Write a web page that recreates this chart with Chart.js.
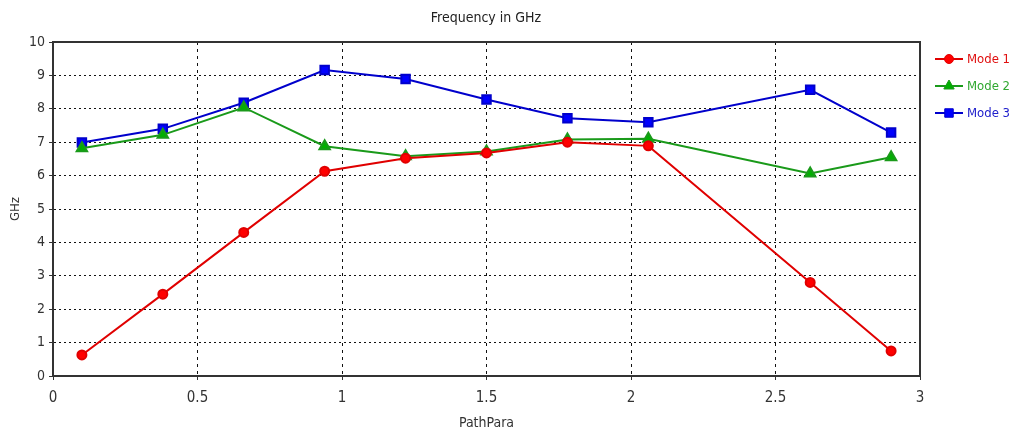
<!DOCTYPE html>
<html>
<head>
<meta charset="utf-8">
<script src="https://cdn.jsdelivr.net/npm/chart.js@4/dist/chart.umd.min.js"></script>
<style>
  html, body { margin: 0; padding: 0; background: #fff; }
  #wrap { width: 1010px; height: 436px; }
</style>
</head>
<body>
<div id="wrap"><canvas id="freqChart" width="1010" height="436"></canvas></div>
<script>
// Valores
const pathPara = [0.1, 0.38, 0.66, 0.94, 1.22, 1.5, 1.78, 2.06, 2.62, 2.9];
const mode1 = [0.63, 2.45, 4.3, 6.13, 6.52, 6.68, 7.0, 6.89, 2.8, 0.75];
const mode2 = [6.82, 7.22, 8.04, 6.88, 6.58, 6.72, 7.08, 7.1, 6.06, 6.55];
const mode3 = [6.99, 7.4, 8.18, 9.16, 8.89, 8.28, 7.72, 7.6, 8.57, 7.29];
const seriesNames = ['Mode 1', 'Mode 2', 'Mode 3'];
const chartTitle = 'Frequency in GHz';
const xTitle = 'PathPara';
const yTitle = 'GHz';

const FONT = '"DejaVu Sans Condensed", "Liberation Sans Narrow", sans-serif';

function toPoints(values) {
    return pathPara.map((x, i) => ({ x: x, y: values[i] }));
}

// Título, moldura e legenda desenhados à mão
const extras = {
    id: 'extras',
    afterDraw(chart) {
        const ctx = chart.ctx;
        const a = chart.chartArea;
        ctx.save();
        ctx.setLineDash([]);
        ctx.strokeStyle = '#333';
        ctx.lineWidth = 2;
        ctx.strokeRect(a.left, a.top, a.right - a.left, a.bottom - a.top);

        ctx.fillStyle = '#222';
        ctx.font = '14px ' + FONT;
        ctx.textAlign = 'center';
        ctx.textBaseline = 'middle';
        ctx.fillText(chartTitle, 486, 18);

        // legenda
        chart.data.datasets.forEach((ds, i) => {
            const y = 59 + i * 27;
            const x0 = 935;
            ctx.strokeStyle = ds.borderColor;
            ctx.fillStyle = ds.backgroundColor;
            ctx.lineWidth = 2;
            ctx.beginPath();
            ctx.moveTo(x0, y);
            ctx.lineTo(x0 + 28, y);
            ctx.stroke();
            ctx.lineWidth = 1;
            Chart.helpers.drawPoint(ctx, {
                pointStyle: ds.pointStyle,
                radius: ds.pointRadius,
                borderWidth: 1
            }, x0 + 14, y);
            ctx.fillStyle = ds.legendColor;
            ctx.textAlign = 'left';
            ctx.font = '13px ' + FONT;
            ctx.fillText(ds.label, x0 + 32, y + 1);
        });
        ctx.restore();
    }
};

const tickFmt = v => String(+v.toFixed(2));

const ctx = document.getElementById('freqChart').getContext('2d');
new Chart(ctx, {
    type: 'line',
    data: {
        datasets: [
            {
                label: seriesNames[0], data: toPoints(mode1),
                borderColor: '#e00000', backgroundColor: '#ff0000', legendColor: '#e01010',
                pointStyle: 'circle', pointRadius: 4.5, borderWidth: 2
            },
            {
                label: seriesNames[1], data: toPoints(mode2),
                borderColor: '#1a9a1a', backgroundColor: '#00b000', legendColor: '#30a830',
                pointStyle: 'triangle', pointRadius: 6, borderWidth: 2
            },
            {
                label: seriesNames[2], data: toPoints(mode3),
                borderColor: '#0000cc', backgroundColor: '#0000ff', legendColor: '#2020cc',
                pointStyle: 'rect', pointRadius: 6, borderWidth: 2
            }
        ]
    },
    options: {
        responsive: false,
        animation: false,
        layout: { padding: { top: 42, right: 90, left: 0, bottom: 0 } },
        plugins: {
            legend: { display: false },
            tooltip: { enabled: false }
        },
        elements: {
            line: { tension: 0 },
            point: { borderWidth: 1 }
        },
        scales: {
            x: {
                type: 'linear', min: 0, max: 3,
                ticks: { stepSize: 0.5, color: '#333', font: { family: FONT, size: 15 }, padding: 9, maxRotation: 0, callback: tickFmt },
                grid: { color: '#111', tickBorderDash: [], tickColor: '#333', tickLength: 4, lineWidth: 1 },
                border: { color: '#333', width: 2, dash: [3, 4] },
                title: { display: true, text: xTitle, color: '#333', font: { family: FONT, size: 14 }, padding: { top: 7 } },
                afterFit(scale) { scale.height = 60; }
            },
            y: {
                min: 0, max: 10,
                ticks: { stepSize: 1, color: '#333', font: { family: FONT, size: 14 }, padding: 4, callback: tickFmt },
                grid: { color: '#111', tickBorderDash: [], tickColor: '#333', tickLength: 4, lineWidth: 1 },
                border: { color: '#333', width: 2, dash: [2, 3] },
                title: { display: true, text: yTitle, color: '#333', font: { family: FONT, size: 13 }, padding: { top: 8, bottom: 0 } },
                afterFit(scale) { scale.width = 53; }
            }
        }
    },
    plugins: [extras]
});
</script>
</body>
</html>
